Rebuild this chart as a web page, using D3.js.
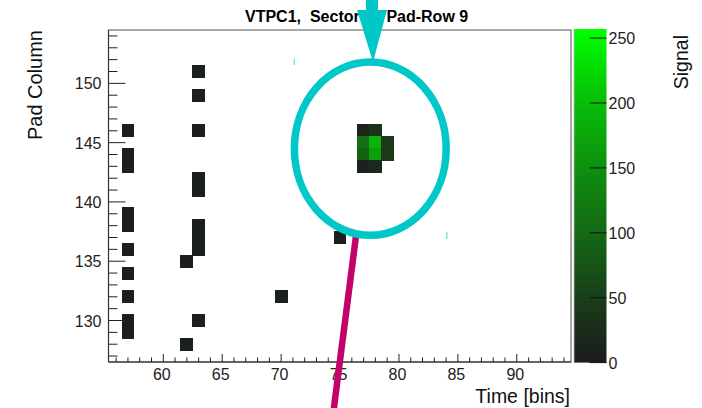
<!DOCTYPE html>
<html>
<head>
<meta charset="utf-8">
<script src="https://cdn.jsdelivr.net/npm/d3@7"></script>
<style>
  html, body { margin: 0; padding: 0; background: #fff; }
  svg { display: block; font-family: "Liberation Sans", Arial, Helvetica, sans-serif; }
</style>
</head>
<body>
<svg id="chart" width="702" height="408"></svg>
<script>
// Hits recorded in VTPC1 pad-row 9: time bin, pad column and ADC signal
const timeBins   = [57, 57, 57, 57, 57, 57, 57, 57, 57, 57,
                    62, 62,
                    63, 63, 63, 63, 63, 63, 63, 63, 63,
                    70, 75,
                    77, 78, 77, 78, 79, 77, 78, 79, 77, 78];
const padColumns = [146, 144, 143, 139, 138, 136, 134, 132, 130, 129,
                    135, 128,
                    151, 149, 146, 142, 141, 138, 137, 136, 130,
                    132, 137,
                    146, 146, 145, 145, 145, 144, 144, 144, 143, 143];
const signals    = [6, 6, 6, 6, 6, 6, 6, 6, 6, 6,
                    6, 6,
                    6, 6, 6, 6, 6, 6, 6, 6, 6,
                    6, 6,
                    15, 34, 110, 189, 44, 90, 168, 44, 9, 21];

const xTickLabels = [60, 65, 70, 75, 80, 85, 90];
const yTickLabels = [130, 135, 140, 145, 150];
const zTickLabels = [0, 50, 100, 150, 200, 250];

const titleText = "VTPC1,  Sector 2,  Pad-Row 9";
const xTitle = "Time [bins]";
const yTitle = "Pad Column";
const zTitle = "Signal";

const svg = d3.select("#chart");

// Plot frame
const fx0 = 108.5, fx1 = 571, fy0 = 30, fy1 = 362;
const x = d3.scaleLinear().domain([55.35, 94.6]).range([fx0, fx1]);
const y = d3.scaleLinear().domain([126.5, 154.5]).range([fy1, fy0]);

// Dark-to-green palette
const zMax = 257;
const color = d3.scaleLinear()
  .domain([0, 50, 100, 150, 200, zMax])
  .range(["#1c1c1c", "#1a3e1a", "#156815", "#0e900e", "#07bd07", "#00ff00"])
  .clamp(true);

const cells = timeBins.map((t, i) => ({ t, p: padColumns[i], v: signals[i] }));

svg.append("rect").attr("x", 0).attr("y", 0).attr("width", 702).attr("height", 408).attr("fill", "#fff");

// Histogram cells (stroked in their own colour so neighbours join without seams)
svg.append("g").attr("shape-rendering", "crispEdges")
  .selectAll("rect").data(cells).join("rect")
  .attr("x", d => x(d.t - 0.5))
  .attr("y", d => y(d.p + 0.5))
  .attr("width", d => x(d.t + 0.5) - x(d.t - 0.5))
  .attr("height", d => y(d.p - 0.5) - y(d.p + 0.5))
  .attr("fill", d => color(d.v))
  .attr("stroke", d => color(d.v))
  .attr("stroke-width", 1);

// Frame
svg.append("rect")
  .attr("x", fx0).attr("y", fy0).attr("width", fx1 - fx0).attr("height", fy1 - fy0)
  .attr("fill", "none").attr("stroke", "#555").attr("stroke-width", 1);

// X axis: ticks at every bin, pointing into the frame
const xMinor = d3.range(56, 95);
svg.append("g").selectAll("line").data(xMinor).join("line")
  .attr("x1", d => x(d)).attr("x2", d => x(d))
  .attr("y1", fy1).attr("y2", d => fy1 - (d % 5 === 0 ? 8 : 4.5))
  .attr("stroke", "#222").attr("stroke-width", 1);
svg.append("line").attr("x1", fx0).attr("x2", fx1).attr("y1", fy1).attr("y2", fy1)
  .attr("stroke", "#222").attr("stroke-width", 1.2);
svg.append("g").selectAll("text").data(xTickLabels).join("text")
  .attr("x", d => x(d) - 1.5).attr("y", 380)
  .attr("text-anchor", "middle")
  .attr("font-size", 16).attr("fill", "#222")
  .text(d => d);

// Y axis
const yMinor = d3.range(127, 155);
svg.append("g").selectAll("line").data(yMinor).join("line")
  .attr("y1", d => y(d)).attr("y2", d => y(d))
  .attr("x1", fx0).attr("x2", d => fx0 + (d % 5 === 0 ? 17 : 9))
  .attr("stroke", "#222").attr("stroke-width", 1);
svg.append("line").attr("x1", fx0).attr("x2", fx0).attr("y1", fy0).attr("y2", fy1)
  .attr("stroke", "#333").attr("stroke-width", 1.2);
svg.append("g").selectAll("text").data(yTickLabels).join("text")
  .attr("x", 101.5).attr("y", d => y(d) + 6)
  .attr("text-anchor", "end")
  .attr("font-size", 16).attr("fill", "#222")
  .text(d => d);

// Axis titles
svg.append("text")
  .attr("x", 570).attr("y", 403)
  .attr("text-anchor", "end").attr("font-size", 19.5).attr("fill", "#111")
  .text(xTitle);
svg.append("text")
  .attr("transform", "translate(41.5,30) rotate(-90)")
  .attr("text-anchor", "end").attr("font-size", 20).attr("fill", "#111")
  .text(yTitle);

// Colour bar
const cbx0 = 574, cbx1 = 606.5;
const z = d3.scaleLinear().domain([0, zMax]).range([362.6, 29]);
const grad = svg.append("defs").append("linearGradient")
  .attr("id", "zgrad").attr("x1", 0).attr("y1", 1).attr("x2", 0).attr("y2", 0);
grad.selectAll("stop").data(d3.range(0, 1.0001, 0.05)).join("stop")
  .attr("offset", d => d)
  .attr("stop-color", d => color(d * zMax));
svg.append("rect")
  .attr("x", cbx0).attr("y", z(zMax)).attr("width", cbx1 - cbx0).attr("height", z(0) - z(zMax))
  .attr("fill", "url(#zgrad)");
svg.append("line").attr("x1", cbx0).attr("x2", cbx0).attr("y1", z(zMax)).attr("y2", z(0))
  .attr("stroke", "#bbb").attr("stroke-width", 0.8);
svg.append("g").selectAll("line").data(zTickLabels).join("line")
  .attr("x1", cbx1 - 17).attr("x2", cbx1)
  .attr("y1", d => z(d)).attr("y2", d => z(d))
  .attr("stroke", "#111").attr("stroke-width", 1);
svg.append("g").selectAll("text").data(zTickLabels).join("text")
  .attr("x", 608.5).attr("y", d => z(d) + 6)
  .attr("font-size", 16).attr("fill", "#222")
  .text(d => d);
svg.append("text")
  .attr("transform", "translate(688,35) rotate(-90)")
  .attr("text-anchor", "end").attr("font-size", 19.5).attr("fill", "#111")
  .text(zTitle);

// Title
svg.append("text")
  .attr("x", 245).attr("y", 22)
  .attr("font-size", 16).attr("font-weight", "bold").attr("fill", "#000")
  .style("white-space", "pre").attr("xml:space", "preserve")
  .text(titleText);

// Highlight of the hit cluster: pointer line, ring and arrow
svg.append("line")
  .attr("x1", 356).attr("y1", 236).attr("x2", 333).attr("y2", 415)
  .attr("stroke", "#c4006a").attr("stroke-width", 6.5);
svg.append("ellipse")
  .attr("cx", 370.3).attr("cy", 148.7).attr("rx", 75.9).attr("ry", 86.6)
  .attr("fill", "none").attr("stroke", "#00c8c8").attr("stroke-width", 7.5);
svg.append("path")
  .attr("d", "M366,0 L378,0 L378,10 L387,10 L373,62 L357,10 L366,10 Z")
  .attr("fill", "#00c8c8");
svg.append("line").attr("x1", 294.3).attr("x2", 294.3).attr("y1", 58.5).attr("y2", 65)
  .attr("stroke", "#7fe0e0").attr("stroke-width", 1.5);
svg.append("line").attr("x1", 446.7).attr("x2", 446.7).attr("y1", 232).attr("y2", 239)
  .attr("stroke", "#7fe0e0").attr("stroke-width", 1.5);
</script>
</body>
</html>
